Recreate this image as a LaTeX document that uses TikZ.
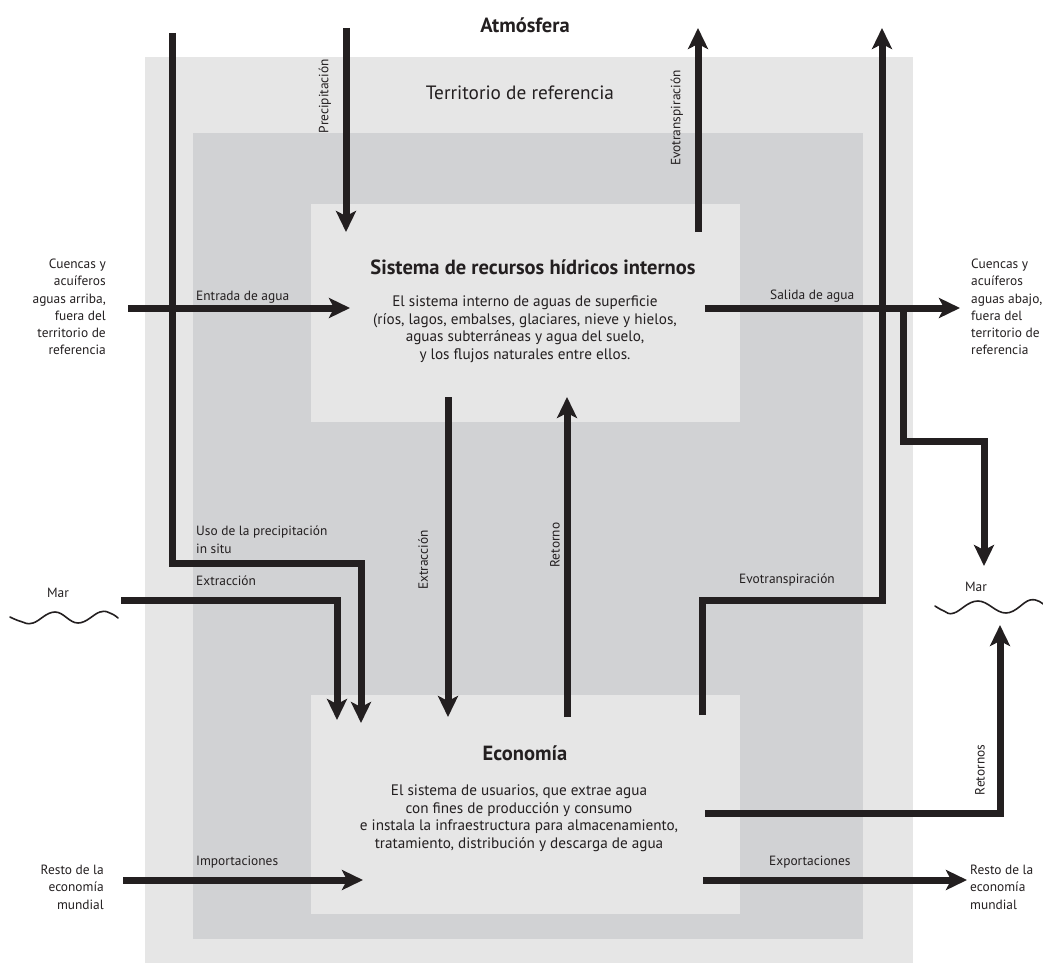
\documentclass[tikz,border=0pt]{standalone}
\usepackage{fontspec}
\setmainfont{PT Sans}
\usetikzlibrary{arrows.meta}
\definecolor{ink}{HTML}{231F20}
\definecolor{paleband}{HTML}{E6E6E6}
\definecolor{midband}{HTML}{D1D2D4}
\begin{document}
\begin{tikzpicture}[x=1pt,y=-1pt,
  band/.style={draw=none, inner sep=0pt, anchor=north west},
  flow/.style={draw=ink, line width=7pt, line join=miter},
  flowarrow/.style={flow, -{Stealth[length=21pt,width=20pt,inset=5pt]}},
  lbl/.style={text=ink, font=\fontsize{13.4}{15}\selectfont, inner sep=0pt},
  side/.style={lbl, align=right, font=\fontsize{13.4}{17.2}\selectfont},
  sider/.style={lbl, align=left, font=\fontsize{13.4}{17.2}\selectfont},
  head/.style={text=ink, font=\fontsize{20.5}{24}\selectfont\bfseries, inner sep=0pt},
  body/.style={text=ink, align=center, font=\fontsize{15.2}{17.5}\selectfont, inner sep=0pt},
  wave/.style={draw=ink, line width=1.6pt, line cap=round}
]
\useasboundingbox (0,0) rectangle (1043,963);

% nested territory bands and the two system boxes
\node[band, fill=paleband, minimum width=768pt, minimum height=906pt] (terr) at (145,57) {};
\node[band, fill=midband, minimum width=670pt, minimum height=806pt] (mid) at (193,133) {};
\node[band, fill=paleband, minimum width=429pt, minimum height=218pt] (sis) at (311,204) {};
\node[band, fill=paleband, minimum width=429pt, minimum height=219pt] (eco) at (311,695) {};

% titles
\node[head] (atm) at (525,25) {Atmósfera};
\node[text=ink, font=\fontsize{19.3}{22}\selectfont, inner sep=0pt] (terrlbl) at (520,93) {Territorio de referencia};
\node[head] (sistit) at (533,267) {Sistema de recursos hídricos internos};
\node[body, anchor=north] (sisbody) at (525,296) {El sistema interno de aguas de superficie\\(ríos, lagos, embalses, glaciares, nieve y hielos,\\aguas subterráneas y agua del suelo,\\y los flujos naturales entre ellos.};
\node[head] (ecotit) at (525,753) {Economía};
\node[body, anchor=north] (ecobody) at (519,785) {El sistema de usuarios, que extrae agua\\con fines de producción y consumo\\e instala la infraestructura para almacenamiento,\\tratamiento, distribución y descarga de agua};

% outside sources and sinks
\node[side, anchor=north east] (upstream) at (106,259) {Cuencas y\\acuíferos\\aguas arriba,\\fuera del\\territorio de\\referencia};
\node[sider, anchor=north west] (downstream) at (971,259) {Cuencas y\\acuíferos\\aguas abajo,\\fuera del\\territorio de\\referencia};
\node[side, anchor=north east] (worldin) at (104,865) {Resto de la\\economía\\mundial};
\node[sider, anchor=north west] (worldout) at (970,865) {Resto de la\\economía\\mundial};
\node[lbl] (marl) at (58,593) {Mar};
\node[lbl] (marr) at (976,587) {Mar};

% sea waves
\draw[wave] plot[smooth, tension=0.7] coordinates {(10,617) (21,621.5) (33,623) (55,612) (78,623) (100,612) (111,613.5) (118,618)};
\draw[wave] plot[smooth, tension=0.7] coordinates {(935,606) (944,611) (954,613) (978,601) (1006,613) (1030,600) (1043,604)};

% flow labels
\node[lbl, rotate=90] (lprec) at (325,96) {Precipitación};
\node[lbl, rotate=90] (levo1) at (677,118) {Evotranspiración};
\node[lbl, anchor=west] (lin) at (196,297) {Entrada de agua};
\node[lbl, anchor=west] (lout) at (770,296) {Salida de agua};
\node[lbl, anchor=north west, align=left, font=\fontsize{13.4}{18}\selectfont] (luso) at (196,526) {Uso de la precipitación\\in situ};
\node[lbl, anchor=west] (lextsea) at (196,581) {Extracción};
\node[lbl, rotate=90] (lext) at (423,560) {Extracción};
\node[lbl, rotate=90] (lret) at (555,545) {Retorno};
\node[lbl] (levo2) at (787,580) {Evotranspiración};
\node[lbl, rotate=90] (lrets) at (980,770) {Retornos};
\node[lbl, anchor=west] (limp) at (196,862) {Importaciones};
\node[lbl, anchor=west] (lexp) at (769,862) {Exportaciones};

% connector end points
\coordinate (insituTop) at (172,33);
\coordinate (insituA) at (172,563);
\coordinate (insituB) at (361,563);
\coordinate (insituTip) at (361,723);
\coordinate (seaStart) at (121,600);
\coordinate (seaBend) at (337,600);
\coordinate (seaTip) at (337,720);
\coordinate (precTop) at (346,28);
\coordinate (precTip) at (346,232);
\coordinate (inStart) at (128,308);
\coordinate (inTip) at (350,308);
\coordinate (evoStart) at (698,232);
\coordinate (evoTip) at (698,28);
\coordinate (ecoEvoStart) at (702,715);
\coordinate (ecoEvoA) at (702,600);
\coordinate (ecoEvoB) at (882,600);
\coordinate (ecoEvoTip) at (882,28);
\coordinate (outStart) at (705,308);
\coordinate (outTip) at (960,308);
\coordinate (branchStart) at (903,305);
\coordinate (branchA) at (903,441);
\coordinate (branchB) at (984,441);
\coordinate (branchTip) at (984,566);
\coordinate (retsStart) at (705,813);
\coordinate (retsBend) at (1000,813);
\coordinate (retsTip) at (1000,625);
\coordinate (extTop) at (448,397);
\coordinate (extTip) at (448,717);
\coordinate (retBottom) at (567,717);
\coordinate (retTip) at (567,397);
\coordinate (impStart) at (123,880);
\coordinate (impTip) at (363,880);
\coordinate (expStart) at (703,880);
\coordinate (expTip) at (967,880);

% flows
\draw[flowarrow] (insituTop) -- (insituA) -- (insituB) -- (insituTip);
\draw[flowarrow] (seaStart) -- (seaBend) -- (seaTip);
\draw[flowarrow] (precTop) -- (precTip);
\draw[flowarrow] (inStart) -- (inTip);
\draw[flowarrow] (evoStart) -- (evoTip);
\draw[flowarrow] (ecoEvoStart) -- (ecoEvoA) -- (ecoEvoB) -- (ecoEvoTip);
\draw[flowarrow] (outStart) -- (outTip);
\draw[flowarrow] (branchStart) -- (branchA) -- (branchB) -- (branchTip);
\draw[flowarrow] (retsStart) -- (retsBend) -- (retsTip);
\draw[flowarrow] (extTop) -- (extTip);
\draw[flowarrow] (retBottom) -- (retTip);
\draw[flowarrow] (impStart) -- (impTip);
\draw[flowarrow] (expStart) -- (expTip);
\end{tikzpicture}
\end{document}
